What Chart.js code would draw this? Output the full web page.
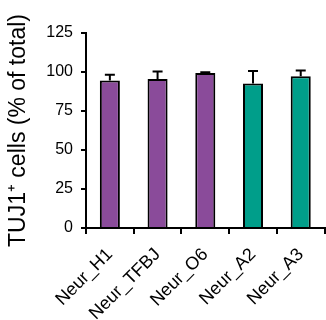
<!DOCTYPE html>
<html>
<head>
<meta charset="utf-8">
<script src="https://cdn.jsdelivr.net/npm/chart.js@4"></script>
<style>
html,body{margin:0;padding:0;background:#fff;}
#wrap{width:326px;height:320px;}
</style>
</head>
<body>
<div id="wrap"><canvas id="c" width="326" height="320"></canvas></div>
<script>
const categories = ["Neur_H1", "Neur_TFBJ", "Neur_O6", "Neur_A2", "Neur_A3"];
const values = [94.5, 95.5, 99.3, 92.7, 97.2];
const errors = [3.7, 4.8, 0.5, 8.0, 3.8];
const barColors = ["#8A4B9A", "#8A4B9A", "#8A4B9A", "#009E8A", "#009E8A"];
const yTicks = [0, 25, 50, 75, 100, 125];
const yTitle = "TUJ1\u207A cells (% of total)";

const errorBarPlugin = {
  id: 'errorBars',
  afterDatasetsDraw(chart) {
    const ctx = chart.ctx;
    const meta = chart.getDatasetMeta(0);
    const y = chart.scales.y;
    ctx.save();
    ctx.strokeStyle = '#000';
    ctx.lineWidth = 2;
    meta.data.forEach((bar, i) => {
      const x = bar.x;
      const top = y.getPixelForValue(values[i] + errors[i]);
      const base = y.getPixelForValue(values[i]);
      ctx.beginPath();
      ctx.moveTo(x, base);
      ctx.lineTo(x, top);
      ctx.moveTo(x - 5, top);
      ctx.lineTo(x + 5, top);
      ctx.stroke();
    });
    ctx.restore();
  }
};

new Chart(document.getElementById('c'), {
  type: 'bar',
  data: {
    labels: categories,
    datasets: [{
      data: values,
      backgroundColor: barColors,
      borderColor: '#000',
      borderWidth: 2,
      categoryPercentage: 1,
      barPercentage: 0.42
    }]
  },
  options: {
    responsive: false,
    animation: false,
    devicePixelRatio: 1,
    layout: { padding: { top: 33, right: 0, left: 0, bottom: 0 } },
    plugins: { legend: { display: false }, tooltip: { enabled: false } },
    scales: {
      x: {
        afterFit(scale) { scale.height = 92; },
        border: { display: true, color: '#000', width: 2 },
        grid: { display: true, drawOnChartArea: false, drawTicks: true, tickLength: 6, color: '#000', lineWidth: 2 },
        ticks: {
          color: '#000',
          font: { family: 'Liberation Sans, Arial, sans-serif', size: 18 },
          minRotation: 45, maxRotation: 45, padding: 10
        }
      },
      y: {
        min: 0, max: 125,
        afterFit(scale) { scale.width = 86; },
        afterBuildTicks(scale) { scale.ticks = yTicks.map(v => ({ value: v })); },
        border: { display: true, color: '#000', width: 2 },
        grid: { display: true, drawOnChartArea: false, drawTicks: true, tickLength: 5, color: '#000', lineWidth: 2 },
        ticks: {
          color: '#000',
          font: { family: 'Liberation Sans, Arial, sans-serif', size: 16 },
          padding: 8
        },
        title: {
          display: true,
          text: yTitle,
          color: '#000',
          font: { family: 'Liberation Sans, Arial, sans-serif', size: 23 },
          padding: { top: 5, bottom: 0 }
        }
      }
    }
  },
  plugins: [errorBarPlugin]
});
</script>
</body>
</html>
